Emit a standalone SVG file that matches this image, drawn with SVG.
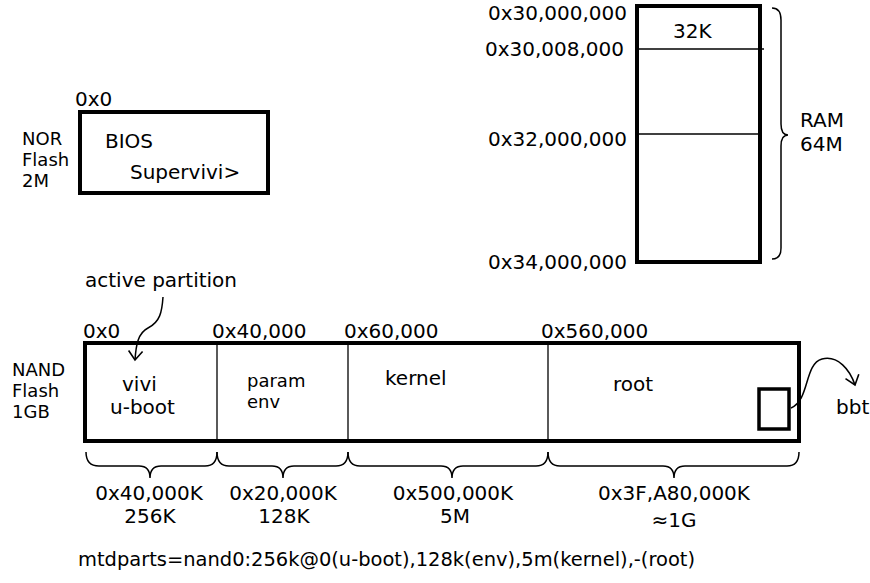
<svg xmlns="http://www.w3.org/2000/svg" width="870" height="583" viewBox="0 0 870 583">
  <style>
    text { font-family: "DejaVu Sans", "Liberation Sans", sans-serif; font-size: 20px; fill: #000; }
    .stack { font-size: 18px; }
    .thick { fill: none; stroke: #000; stroke-width: 4; }
    .thin { fill: none; stroke: #000; stroke-width: 1.3; }
    .brace { fill: none; stroke: #000; stroke-width: 1.5; }
    .mid { text-anchor: middle; }
    .end { text-anchor: end; }
  </style>
  <defs>
    <marker id="vhead" viewBox="-10 -8 12 16" markerWidth="12" markerHeight="16" refX="0" refY="0" orient="auto" markerUnits="userSpaceOnUse">
      <path d="M-9,-7 L0,0 L-9,7" fill="none" stroke="#000" stroke-width="1.6"/>
    </marker>
  </defs>

  <rect width="870" height="583" fill="#fff"/>

  <!-- NOR flash -->
  <g id="nor">
    <rect class="thick" x="80" y="112" width="188" height="81"/>
    <text x="75" y="106">0x0</text>
    <text class="stack" x="22" y="145">NOR<tspan x="22" dy="21">Flash</tspan><tspan x="22" dy="21">2M</tspan></text>
    <text x="105" y="148">BIOS</text>
    <text x="130" y="179">Supervivi&gt;</text>
  </g>

  <!-- RAM -->
  <g id="ram">
    <rect class="thick" x="637" y="6" width="123" height="256"/>
    <line class="thin" x1="637" y1="49" x2="764" y2="49"/>
    <line class="thin" x1="637" y1="134" x2="760" y2="134"/>
    <text x="673" y="38">32K</text>
    <text class="end" x="627" y="20">0x30,000,000</text>
    <text class="end" x="624" y="56">0x30,008,000</text>
    <text class="end" x="627" y="146">0x32,000,000</text>
    <text class="end" x="627" y="269">0x34,000,000</text>
    <path class="brace" d="M772,8 Q781,8 781,20 L781,124 Q781,135 788,135 Q781,135 781,146 L781,248 Q781,259 772,259"/>
    <text x="800" y="127">RAM<tspan x="800" dy="24">64M</tspan></text>
  </g>

  <!-- NAND flash -->
  <g id="nand">
    <rect class="thick" x="85" y="343" width="714" height="98"/>
    <line class="thin" x1="217" y1="343" x2="217" y2="441"/>
    <line class="thin" x1="348" y1="343" x2="348" y2="441"/>
    <line class="thin" x1="548" y1="343" x2="548" y2="441"/>
    <text class="stack" x="12" y="376">NAND<tspan x="12" dy="21">Flash</tspan><tspan x="12" dy="21">1GB</tspan></text>
    <text x="83" y="338">0x0</text>
    <text x="212" y="338">0x40,000</text>
    <text x="344" y="338">0x60,000</text>
    <text x="541" y="338">0x560,000</text>
    <text x="122" y="391">vivi<tspan x="110" dy="23">u-boot</tspan></text>
    <text class="stack" x="247" y="387">param<tspan x="247" dy="21">env</tspan></text>
    <text x="385" y="385">kernel</text>
    <text x="613" y="391">root</text>
  </g>

  <g id="bbt">
    <rect x="759" y="389" width="30" height="40" fill="none" stroke="#000" stroke-width="3.5"/>
    <text x="836" y="414">bbt</text>
  </g>

  <g id="active-label">
    <text x="85" y="287">active partition</text>
  </g>

  <!-- size labels -->
  <g id="sizes">
    <text class="mid" x="149" y="500">0x40,000K<tspan x="150" dy="23">256K</tspan></text>
    <text class="mid" x="283" y="500">0x20,000K<tspan x="284" dy="23">128K</tspan></text>
    <text class="mid" x="453" y="500">0x500,000K<tspan x="455" dy="23">5M</tspan></text>
    <text class="mid" x="674" y="500">0x3F,A80,000K<tspan x="674" dy="27">≈1G</tspan></text>
  </g>

  <g id="cmdline">
    <text x="78" y="566" font-size="19.4" textLength="617" lengthAdjust="spacingAndGlyphs">mtdparts=nand0:256k@0(u-boot),128k(env),5m(kernel),-(root)</text>
  </g>

  <!-- connectors -->
  <g id="connectors">
    <path class="brace" d="M163,297 C162,312 160,322 148,328 C138,333 136,345 135,360" marker-end="url(#vhead)"/>
    <path class="brace" d="M791,408 C810,400 804,364 822,359 C838,355 850,370 855,385" marker-end="url(#vhead)"/>
    <path class="brace" d="M86,452 Q86,466 99,466 L139,466 Q150,466 150,478 Q150,466 161,466 L205,466 Q217,466 217,452"/>
    <path class="brace" d="M217,452 Q217,466 229,466 L272,466 Q283,466 283,478 Q283,466 294,466 L336,466 Q348,466 348,452"/>
    <path class="brace" d="M348,452 Q348,466 360,466 L441,466 Q452,466 452,478 Q452,466 463,466 L536,466 Q548,466 548,452"/>
    <path class="brace" d="M548,452 Q548,466 560,466 L663,466 Q674,466 674,478 Q674,466 685,466 L787,466 Q799,466 799,452"/>
  </g>
</svg>
